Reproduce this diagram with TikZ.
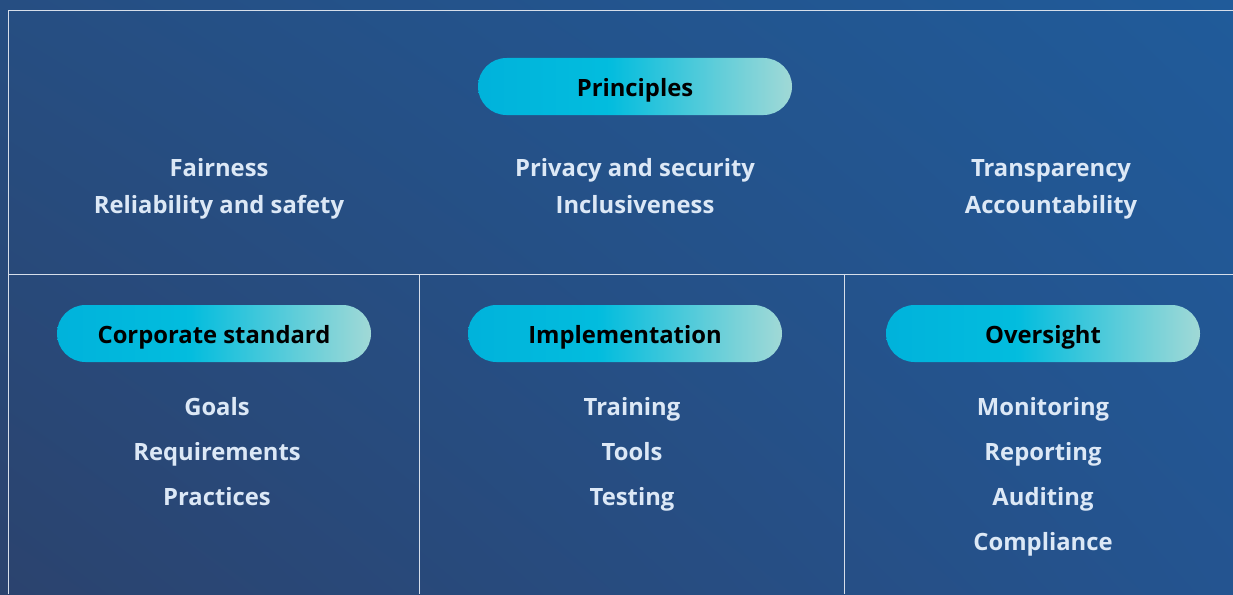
\documentclass[tikz,border=0pt]{standalone}
\usepackage{fontspec}
\setmainfont{Open Sans}
\usetikzlibrary{positioning, shadings}

\definecolor{bgul}{HTML}{264E82}
\definecolor{bgur}{HTML}{205B9A}
\definecolor{bgll}{HTML}{2B436E}
\definecolor{bglr}{HTML}{245490}
\definecolor{itemtext}{HTML}{DCE8F6}
\definecolor{frameline}{HTML}{D6DEEA}

\pgfdeclarehorizontalshading{pillshade}{100bp}{rgb(0bp)=(0,0.70,0.86);
  rgb(25bp)=(0,0.70,0.86); rgb(46bp)=(0.01,0.74,0.87);
  rgb(75bp)=(0.63,0.85,0.84); rgb(100bp)=(0.63,0.85,0.84)}

\tikzset{
  pill/.style={rounded corners=28.5pt, minimum width=314pt, minimum height=57pt,
    inner sep=0pt, shading=pillshade, text=black, text height=24pt, text depth=4pt,
    font=\bfseries\fontsize{23.8}{28}\selectfont},
  item/.style={text=itemtext, anchor=base, inner sep=0pt,
    font=\bfseries\fontsize{23.8}{28}\selectfont},
  frame/.style={frameline, line width=1pt}
}

\begin{document}
\begin{tikzpicture}[x=1pt, y=-1pt]

    \useasboundingbox (0,0) rectangle (1233,594);
    \shade[upper left=bgul, upper right=bgur, lower left=bgll, lower right=bglr]
        (0,0) rectangle (1233,594);

    % frame
    \draw[frame] (8,594) -- (8,10.5) -- (1233,10.5);
    \draw[frame] (8,274.5) -- (1233,274.5);
    \draw[frame] (419,274.5) -- (419,594);
    \draw[frame] (844,274.5) -- (844,594);

    % principles
    \node (princ) [pill] at (635,86.5) {Principles};
    \foreach \t [count=\i from 0] in {Fairness,Reliability and safety}
    \node (pleft\i) [item] at (219,176.7+36.6*\i) {\t};
    \foreach \t [count=\i from 0] in {Privacy and security,Inclusiveness}
    \node (pmid\i) [item] at (635,176.7+36.6*\i) {\t};
    \foreach \t [count=\i from 0] in {Transparency,Accountability}
    \node (pright\i) [item] at (1051,176.7+36.6*\i) {\t};

    % columns
    \node (corp) [pill] at (214,333.5) {Corporate standard};
    \node (impl) [pill] at (625,333.5) {Implementation};
    \node (over) [pill] at (1043,333.5) {Oversight};

    \foreach \t [count=\i from 0] in {Goals,Requirements,Practices}
    \node (corp\i) [item] at (217,415.8+45*\i) {\t};
    \foreach \t [count=\i from 0] in {Training,Tools,Testing}
    \node (impl\i) [item] at (632,415.8+45*\i) {\t};
    \foreach \t [count=\i from 0] in {Monitoring,Reporting,Auditing,Compliance}
    \node (over\i) [item] at (1043,415.8+45*\i) {\t};

\end{tikzpicture}
\end{document}
